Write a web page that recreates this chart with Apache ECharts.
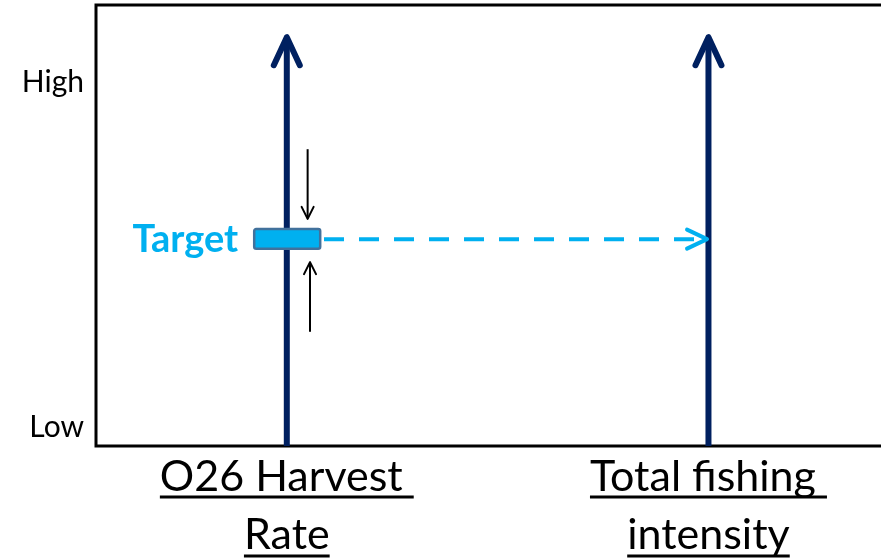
<!DOCTYPE html>
<html>
<head>
<meta charset="utf-8">
<script src="https://cdn.jsdelivr.net/npm/echarts@6/dist/echarts.min.js"></script>
<style>
html,body{margin:0;padding:0;background:#fff;}
#chart{width:881px;height:558px;}
</style>
</head>
<body>
<div id="chart"></div>
<script>
// ---- data ----
const yTickValues = [4.3, 82.5];
const yTickLabels = ['Low', 'High'];
const axisNames = ['O26 Harvest \nRate', 'Total fishing \nintensity'];
const axisPositions = [24.0, 77.04];
const axisArrowTop = 92.7;
const targetLabel = 'Target';
const targetRange = [19.9, 28.2];     // x extent of target bar
const targetBand = [44.7, 49.2];      // y extent of target bar
const targetLevel = 46.9;
const targetArrow = [28.68, 76.86];   // dashed arrow x from -> to
const convergeArrows = [
  [26.62, 67.3, 26.62, 51.5],
  [26.92, 25.9, 26.92, 41.7]
];

const FONT = 'Lato';
const NAVY = '#002060';
const CYAN = '#00B0F0';

const chart = echarts.init(document.getElementById('chart'));

function chevron(tip, dir, back, spread) {
  const ux = dir[0], uy = dir[1];
  const px = -uy, py = ux;
  const bx = tip[0] - ux * back, by = tip[1] - uy * back;
  return [[bx + px * spread, by + py * spread], tip, [bx - px * spread, by - py * spread]];
}
function unit(a, b) {
  const dx = b[0] - a[0], dy = b[1] - a[1];
  const l = Math.hypot(dx, dy) || 1;
  return [dx / l, dy / l];
}
function arrowGroup(p0, p1, color, width, back, spread, dash) {
  const d = unit(p0, p1);
  return {
    type: 'group',
    children: [
      { type: 'line', shape: { x1: p0[0], y1: p0[1], x2: p1[0] - d[0] * width * 0.3, y2: p1[1] - d[1] * width * 0.3 },
        style: { stroke: color, lineWidth: width, lineDash: dash || null, lineCap: 'butt' } },
      { type: 'polyline', shape: { points: chevron(p1, d, back, spread) },
        style: { stroke: color, fill: null, lineWidth: width, lineCap: 'round', lineJoin: 'round' } }
    ]
  };
}

// text measurement for underlines
const mctx = document.createElement('canvas').getContext('2d');
const xLabelSize = 43;
function textW(t) { mctx.font = xLabelSize + 'px ' + FONT; return mctx.measureText(t).width; }

const option = {
  animation: false,
  backgroundColor: '#fff',
  grid: { left: 96, top: 5, right: -10, bottom: 112, show: true, borderColor: '#000', borderWidth: 3,
          backgroundColor: 'transparent', containLabel: false, outerBoundsMode: 'none' },
  xAxis: {
    type: 'value', min: 0, max: 100,
    axisLine: { show: false }, axisTick: { show: false }, splitLine: { show: false },
    axisLabel: {
      customValues: axisPositions,
      formatter: v => axisNames[axisPositions.indexOf(v)] || '',
      fontFamily: FONT, fontSize: xLabelSize, lineHeight: 58, color: '#000', margin: 2
    }
  },
  yAxis: {
    type: 'value', min: 0, max: 100,
    axisLine: { show: false }, axisTick: { show: false }, splitLine: { show: false },
    axisLabel: {
      customValues: yTickValues,
      formatter: v => yTickLabels[yTickValues.indexOf(v)] || '',
      fontFamily: FONT, fontSize: 30, color: '#000', margin: 12
    }
  },
  series: [
    {
      type: 'custom', name: 'axes', clip: false,
      data: axisPositions.map(x => [x, 0, axisArrowTop]),
      renderItem: (params, api) => {
        const p0 = api.coord([api.value(0), api.value(1)]);
        const p1 = api.coord([api.value(0), api.value(2)]);
        return arrowGroup(p0, p1, NAVY, 6, 28, 13);
      }
    },
    {
      type: 'custom', name: 'dashed', clip: false,
      data: [[targetArrow[0], targetLevel, targetArrow[1], targetLevel]],
      renderItem: (params, api) => {
        const p0 = api.coord([api.value(0), api.value(1)]);
        const p1 = api.coord([api.value(2), api.value(3)]);
        return arrowGroup(p0, p1, CYAN, 4, 20, 9.5, [20, 15]);
      }
    },
    {
      type: 'custom', name: 'target', clip: false,
      data: [[targetRange[0], targetBand[1], targetRange[1], targetBand[0]]],
      renderItem: (params, api) => {
        const a = api.coord([api.value(0), api.value(1)]);
        const b = api.coord([api.value(2), api.value(3)]);
        return {
          type: 'group',
          children: [
            { type: 'rect', shape: { x: a[0], y: a[1], width: b[0] - a[0], height: b[1] - a[1], r: 2 },
              style: { fill: CYAN, stroke: '#41719C', lineWidth: 2.5 } },
            { type: 'text', style: { text: targetLabel, x: a[0] - 16, y: (a[1] + b[1]) / 2 + 1, align: 'right', verticalAlign: 'middle',
              fill: CYAN, font: 'bold 38px ' + FONT } }
          ]
        };
      }
    },
    {
      type: 'custom', name: 'converge', clip: false,
      data: convergeArrows,
      renderItem: (params, api) => {
        const p0 = api.coord([api.value(0), api.value(1)]);
        const p1 = api.coord([api.value(2), api.value(3)]);
        return arrowGroup(p0, p1, '#000', 2, 12, 6);
      }
    },
    {
      type: 'custom', name: 'underlines', clip: false, silent: true,
      data: axisPositions.map((x, i) => [x, 0, i]),
      renderItem: (params, api) => {
        const p = api.coord([api.value(0), api.value(1)]);
        const lines = axisNames[api.value(2)].split('\n');
        const offs = [51, 110];
        return {
          type: 'group',
          children: lines.map((t, k) => {
            const w = textW(t);
            return { type: 'rect', shape: { x: p[0] - w / 2, y: p[1] + offs[k] - 1.4, width: w, height: 2.8 }, style: { fill: '#000' } };
          })
        };
      }
    }
  ]
};
chart.setOption(option);
</script>
</body>
</html>
